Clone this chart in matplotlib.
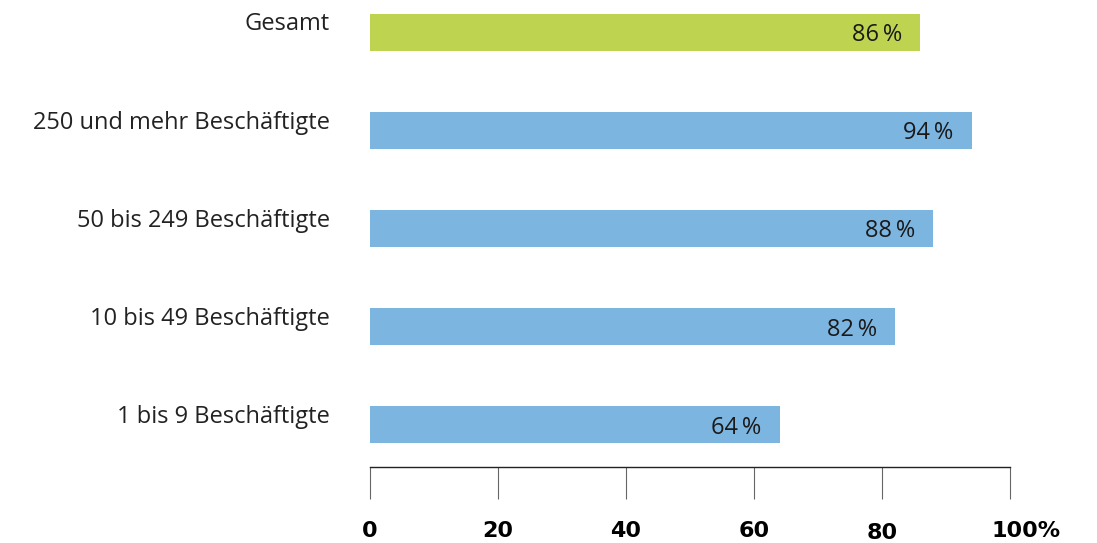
import matplotlib
matplotlib.use("Agg")
import matplotlib.pyplot as plt
import matplotlib.transforms as mtrans

categories = ["Gesamt", "250 und mehr Beschäftigte", "50 bis 249 Beschäftigte",
              "10 bis 49 Beschäftigte", "1 bis 9 Beschäftigte"]
values = [86, 94, 88, 82, 64]
colors = ["#bed350", "#7db5e1", "#7db5e1", "#7db5e1", "#7db5e1"]
xticks = [0, 20, 40, 60, 80, 100]
xticklabels = ["0", "20", "40", "60", "80", "100%"]

plt.rcParams['font.family'] = ['Open Sans', 'DejaVu Sans']

W, H = 1097, 543
fig = plt.figure(figsize=(W / 100, H / 100), dpi=100)
ax = fig.add_axes([370 / W, 76 / H, 640 / W, 467 / H])

ypos = list(range(len(categories)))
ax.barh(ypos, values, height=0.38, color=colors)

for y, v, c in zip(ypos, values, categories):
    ax.text(v - 2.8, y + 0.09, f"{v}\u2009%", ha='right', va='baseline',
            fontsize=17, color='#1a1a1a')
    ax.text(-6.25, y - 0.02, c, ha='right', va='baseline', fontsize=17,
            color='#222222', clip_on=False)

ax.set_xlim(0, 100)
ax.set_ylim(4.43, -0.33)
ax.set_yticks([])
ax.set_xticks(xticks)
ax.set_xticklabels(xticklabels, fontsize=16, fontweight='bold',
                   family='DejaVu Sans')
ax.tick_params(axis='x', direction='out', length=23, width=0.8,
               color='#666666', pad=16)

for s in ['top', 'left', 'right']:
    ax.spines[s].set_visible(False)
ax.spines['bottom'].set_linewidth(1.0)
ax.spines['bottom'].set_color('#222222')

# the "80" label sits a little lower in the original
lab80 = ax.get_xticklabels()[4]
lab80.set_transform(lab80.get_transform() +
                    mtrans.ScaledTranslation(0, -2 / 100, fig.dpi_scale_trans))
# "100%" label is pushed to the right of its tick
lab100 = ax.get_xticklabels()[5]
lab100.set_transform(lab100.get_transform() +
                     mtrans.ScaledTranslation(16 / 100, 0, fig.dpi_scale_trans))

fig.savefig("out.png", dpi=100)
